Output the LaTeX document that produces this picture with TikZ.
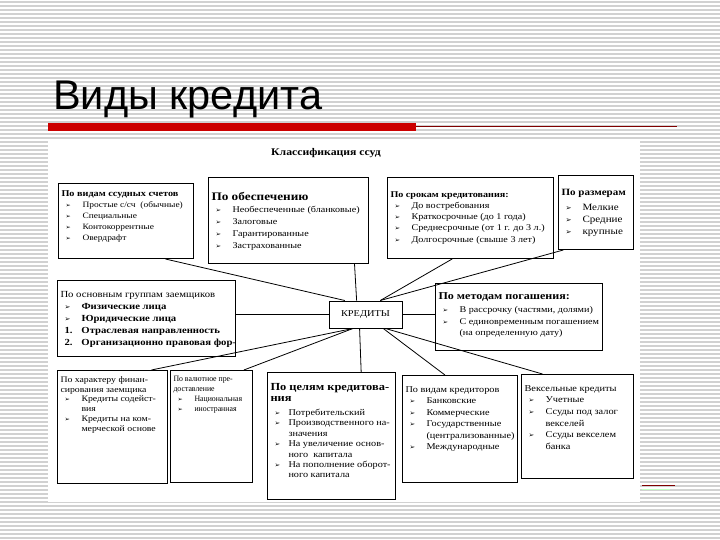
\documentclass[tikz,border=0pt]{standalone}
\usepackage{fontspec}
\setmainfont{Liberation Serif}
\newfontfamily\cellfont[FakeStretch=1.15]{Liberation Serif}
\newfontfamily\valfont[FakeStretch=0.95]{Liberation Serif}
\newfontfamily\headfont{Liberation Sans}
\newfontfamily\symfont{DejaVu Sans}
\usepackage{graphicx}
\usetikzlibrary{calc}

\newlength{\hang}
\setlength{\hang}{21pt}
\newcommand{\arr}{{\symfont\scalebox{0.75}{➢}}}
\newcommand{\itm}[2][\arr]{\par\noindent\hangindent=\hang\hangafter=1\makebox[\hang][l]{\hspace*{4pt}#1}#2}
\newcommand{\cell}[3]{\parbox[t][#2pt][t]{#1pt}{\raggedright #3}}

\begin{document}
\begin{tikzpicture}[x=1pt,y=-1pt,
  cell/.style={draw, line width=1pt, anchor=north west, inner sep=3pt,
    font=\cellfont\fontsize{8.2}{9.6}\selectfont},
  link/.style={line width=0.8pt},
  stripe/.style={black!18, line width=1.2pt}]

\useasboundingbox (0,0) rectangle (720,540);
% background stripes
\foreach \y in {2,6,...,538}
  \draw[stripe] (0,\y) -- (720,\y);

% slide title
\node[anchor=base west, inner sep=0pt, font=\headfont\fontsize{41.5}{41.5}\selectfont] (title) at (53,110) {Виды кредита};
\fill[red!80!black] (48,123) rectangle (416,131);
\draw[red!50!black, line width=0.8pt] (416,126) -- (677,126);
\draw[red!50!black, line width=0.8pt] (642,485) -- (675,485);
\draw[green!25, line width=0.6pt] (642,489) -- (670,489);

% the sheet
\fill[white] (48,140) rectangle (640,502);

\node[font=\cellfont\bfseries\fontsize{10.2}{11}\selectfont] (klass) at (326,153) {Классификация ссуд};

% top row
\node[cell, font=\cellfont\fontsize{8.2}{11}\selectfont] (vid) at (58,183) {\cell{129}{69}{\vspace*{4pt}{\bfseries\fontsize{8.9}{11}\selectfont По видам ссудных счетов\par}
  \itm{Простые с/сч\ \ (обычные)}
  \itm{Специальные}
  \itm{Контокоррентные}
  \itm{Овердрафт}}};

\node[cell, font=\cellfont\fontsize{8.8}{11.9}\selectfont] (obesp) at (208,177) {\cell{154}{80}{\vspace*{12pt}{\bfseries\fontsize{11.5}{13}\selectfont По обеспечению\par}
  \itm{Необеспеченные (бланковые)}
  \itm{Залоговые}
  \itm{Гарантированные}
  \itm{Застрахованные}}};

\node[cell, font=\cellfont\fontsize{8.8}{11.2}\selectfont] (srok) at (387,177) {\cell{160}{75}{\vspace*{11pt}\textbf{По срокам кредитования:}
  \itm{До востребования}
  \itm{Краткосрочные (до 1 года)}
  \itm{Среднесрочные (от 1 г. до 3 л.)}
  \itm{Долгосрочные (свыше 3 лет)}}};

\node[cell, font=\cellfont\fontsize{9.6}{12}\selectfont] (razm) at (558,175) {\cell{69}{68}{\vspace*{11pt}\mbox{\textbf{По размерам}}\par\vspace{3pt}
  \itm{Мелкие}
  \itm{Средние}
  \itm{крупные}}};

% middle row
\node[cell, font=\cellfont\fontsize{9.3}{12}\selectfont] (zaem) at (57,280) {\cell{172}{70}{\vspace*{8pt}\mbox{По основным группам заемщиков}\bfseries
  \itm{Физические лица}
  \itm{Юридические лица}
  \itm[1.]{Отраслевая направленность}
  \itm[2.]{\mbox{Организационно правовая фор-}}}};

\node[draw, line width=1pt, minimum width=73pt, minimum height=27pt,
  font=\cellfont\fontsize{9}{10}\selectfont] (kred) at (365.5,314.5) {КРЕДИТЫ};

\node[cell, font=\cellfont\fontsize{8.8}{11.5}\selectfont] (pogash) at (435,283) {\cell{161}{61}{\vspace*{6pt}{\bfseries\fontsize{10.5}{13}\selectfont \mbox{По методам погашения:}\par}\vspace{2pt}
  \itm{\mbox{В рассрочку (частями, долями)}}
  \itm{\mbox{С единовременным погашением}\newline(на определенную дату)}}};

% bottom row
\node[cell, font=\cellfont\fontsize{8.5}{9.8}\selectfont] (harakt) at (57,370) {\cell{104}{107}{\vspace*{3pt}По характеру финан-\\сирования заемщика
  \itm{Кредиты содейст-\newline вия}
  \itm{Кредиты на ком-\newline мерческой основе}}};

\node[cell, font=\valfont\fontsize{8.2}{10}\selectfont] (valut) at (170,370) {\cell{76}{106}{\vspace*{3pt}По валютное пре-\\доставление
  \itm{Национальная}
  \itm{иностранная}}};

\node[cell, font=\cellfont\fontsize{8.9}{10.4}\selectfont] (cel) at (267,372) {\cell{122}{121}{\vspace*{8pt}{\bfseries\fontsize{10.8}{10.5}\selectfont По целям кредитова-\\ния\par}\vspace{4pt}
  \setlength{\hang}{18pt}%
  \itm{Потребительский}
  \itm{\mbox{Производственного на-}\newline значения}
  \itm{\mbox{На увеличение основ-}\newline ного\ \ капитала}
  \itm{\mbox{На пополнение оборот-}\newline ного капитала}}};

\node[cell, font=\cellfont\fontsize{8.9}{11.5}\selectfont] (kreditor) at (402,375) {\cell{109}{101}{\vspace*{8pt}По видам кредиторов
  \itm{Банковские}
  \itm{Коммерческие}
  \itm{Государственные\newline\mbox{(централизованные)}}
  \itm{Международные}}};

\node[cell, font=\cellfont\fontsize{9}{11.6}\selectfont] (veks) at (521,374) {\cell{106}{98}{\vspace*{8pt}Вексельные кредиты
  \itm{Учетные}
  \itm{Ссуды под залог\newline векселей}
  \itm{Ссуды векселем\newline банка}}};

% links to the centre
\draw[link] ($(vid.south west)!0.79!(vid.south east)$) -- ($(kred.north west)!0.22!(kred.north east)$);
\draw[link] ($(obesp.south west)!0.91!(obesp.south east)$) -- ($(kred.north west)!0.38!(kred.north east)$);
\draw[link] ($(srok.south west)!0.39!(srok.south east)$) -- ($(kred.north west)!0.7!(kred.north east)$);
\draw[link] ($(razm.south west)!0.07!(razm.south east)$) -- ($(kred.north west)!0.7!(kred.north east)$);
\draw[link] (zaem.east |- kred.west) -- (kred.west);
\draw[link] (kred.east) -- (kred.east -| pogash.west);
\draw[link] ($(harakt.north west)!0.85!(harakt.north east)$) -- ($(kred.south west)!0.33!(kred.south east)$);
\draw[link] ($(valut.north west)!0.89!(valut.north east)$) -- ($(kred.south west)!0.33!(kred.south east)$);
\draw[link] ($(kred.south west)!0.42!(kred.south east)$) -- ($(cel.north west)!0.73!(cel.north east)$);
\draw[link] ($(kred.south west)!0.74!(kred.south east)$) -- ($(kreditor.north west)!0.37!(kreditor.north east)$);
\draw[link] ($(kred.south west)!0.77!(kred.south east)$) -- ($(veks.north west)!0.19!(veks.north east)$);
\end{tikzpicture}
\end{document}
